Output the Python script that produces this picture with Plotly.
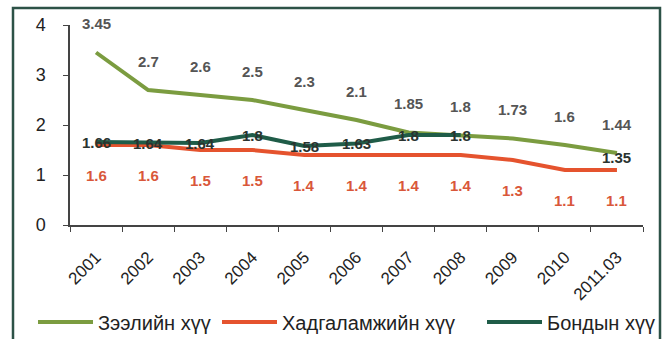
import plotly.graph_objects as go

# Interest rates by year, %
years = ["2001", "2002", "2003", "2004", "2005", "2006", "2007", "2008", "2009", "2010", "2011.03"]
loan_rate = [3.45, 2.7, 2.6, 2.5, 2.3, 2.1, 1.85, 1.8, 1.73, 1.6, 1.44]
deposit_rate = [1.6, 1.6, 1.5, 1.5, 1.4, 1.4, 1.4, 1.4, 1.3, 1.1, 1.1]
bond_rate = [1.66, 1.64, 1.64, 1.8, 1.58, 1.63, 1.8, 1.8, None, None, 1.35]

series_names = ["Зээлийн хүү", "Хадгаламжийн хүү", "Бондын хүү"]

LOAN_COLOR = "#7b9c40"
DEPOSIT_COLOR = "#e5532e"
BOND_COLOR = "#1f5c48"
FONT = "Liberation Sans, Arial, sans-serif"

L, R, T, B = 70, 25, 25, 114
W, H = 668, 339
pw, ph = W - L - R, H - T - B

def px_x(p):
    return (p - L) / pw

def px_y(p):
    return (H - B - p) / ph

fig = go.Figure()
# each series gets its own legend box so the entries can be spaced freely
legend_ids = ["legend", "legend2", "legend3"]
legend_x = [33, 217, 482]
for name, vals, color, lg in zip(
    series_names,
    [loan_rate, deposit_rate, bond_rate],
    [LOAN_COLOR, DEPOSIT_COLOR, BOND_COLOR],
    legend_ids,
):
    fig.add_trace(go.Scatter(
        x=years, y=vals, mode="lines", name=name, legend=lg,
        line=dict(color=color, width=4),
        connectgaps=False, hoverinfo="skip",
    ))

# value labels: loan above, deposit below, bond centred on its line
label_specs = [
    (loan_rate, 29, "#555555"),
    (deposit_rate, -30, "#d9573a"),
    (bond_rate, 0, "#2a332f"),
]
for vals, shift, color in label_specs:
    for i, v in enumerate(vals):
        if v is None:
            continue
        fig.add_annotation(
            x=i, y=v, xref="x", yref="y", text=f"<b>{v:g}</b>",
            showarrow=False, yshift=shift,
            font=dict(family=FONT, size=15, color=color),
        )

# frame around the whole chart
fig.add_shape(
    type="rect", xref="paper", yref="paper",
    x0=px_x(13), x1=px_x(660), y0=px_y(345), y1=px_y(8),
    line=dict(color="#2d5247", width=2.5), layer="below",
)

legend_style = dict(
    orientation="h", xanchor="left",
    y=px_y(322), yanchor="middle",
    font=dict(size=20, color="#222"),
    itemwidth=55, bgcolor="rgba(0,0,0,0)",
)

fig.update_layout(
    width=W, height=H,
    margin=dict(l=L, r=R, t=T, b=B, autoexpand=False),
    paper_bgcolor="white", plot_bgcolor="white",
    font=dict(family=FONT, color="#222"),
    showlegend=True,
    legend=dict(x=px_x(legend_x[0]), **legend_style),
    legend2=dict(x=px_x(legend_x[1]), **legend_style),
    legend3=dict(x=px_x(legend_x[2]), **legend_style),
    xaxis=dict(
        type="category", range=[-0.5, len(years) - 0.5],
        showline=True, linecolor="#444", linewidth=1.5,
        ticks="outside", tickson="boundaries", ticklen=5, tickcolor="#444",
        tickangle=-45, tickfont=dict(size=17, color="#222"),
        ticklabelstandoff=14,
        showgrid=False, zeroline=False,
    ),
    yaxis=dict(
        range=[0, 4], dtick=1,
        showline=True, linecolor="#444", linewidth=1.5,
        ticks="outside", ticklen=5, tickcolor="#444",
        tickfont=dict(size=18, color="#222"),
        ticklabelstandoff=14,
        showgrid=False, zeroline=False,
    ),
)

fig.write_html("out.html")
